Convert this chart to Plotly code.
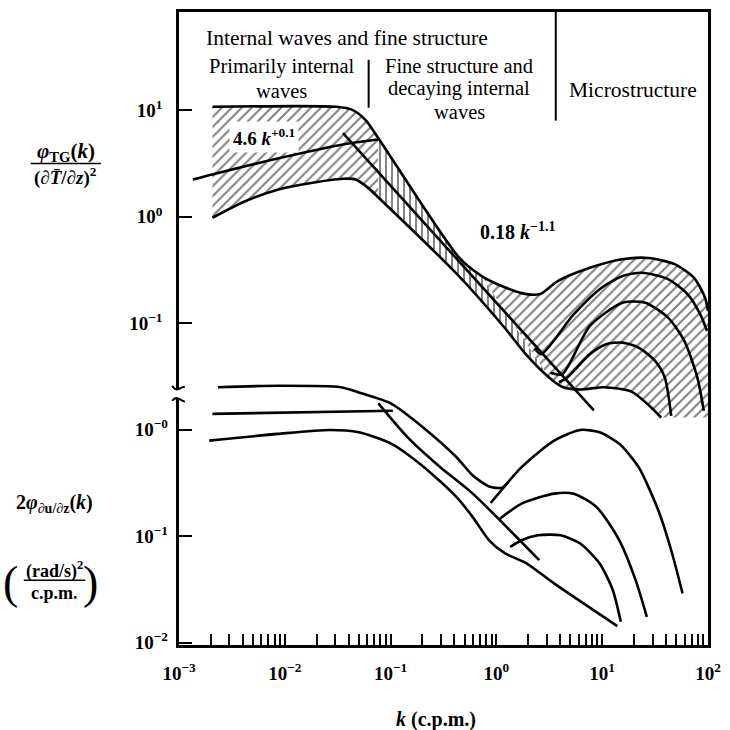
import plotly.graph_objects as go

# ---------------- data ----------------
# Temperature-gradient spectrum band (upper panel)
band_upper_k = [0.00207, 0.0306, 0.0435, 0.0578, 0.0767, 0.44, 0.721, 1.18, 1.92, 2.59, 3.8, 7.65, 15.4, 27.4, 48.3, 73.8, 93.8, 100]
band_upper_v = [10.8, 10.8, 10.1, 8.13, 5.47, 0.418, 0.279, 0.219, 0.188, 0.188, 0.249, 0.332, 0.40, 0.411, 0.359, 0.267, 0.174, 0.130]
band_lower_k = [0.00207, 0.00422, 0.00855, 0.0172, 0.0355, 0.0468, 0.0617, 0.0767, 0.44, 1.18, 1.92, 3.18, 4.28, 6.32, 10.4, 18.9, 27.9, 36.1]
band_lower_v = [0.98, 1.40, 1.80, 2.07, 2.28, 2.24, 1.86, 1.52, 0.279, 0.0923, 0.0505, 0.0307, 0.0251, 0.0239, 0.0251, 0.0228, 0.0168, 0.0130]
hatch_bottom_v = 0.0130

arcA_k = [2.3, 2.65, 5.37, 9.46, 15.4, 23.6, 41.9, 64, 84.3, 98]
arcA_v = [0.058, 0.0513, 0.121, 0.209, 0.277, 0.298, 0.26, 0.188, 0.122, 0.0847]
arcB_k = [3.25, 4.2, 7.65, 15.5, 25.5, 41.9, 59.7, 79.2, 91.2]
arcB_v = [0.0343, 0.0333, 0.0945, 0.156, 0.156, 0.113, 0.0683, 0.031, 0.0151]
arcC_k = [3.9, 4.67, 7.65, 10.9, 15.5, 22.1, 31.6, 39, 44.9]
arcC_v = [0.028, 0.031, 0.0513, 0.0636, 0.0658, 0.0591, 0.0444, 0.031, 0.0135]

fit_low_k = [0.00135, 0.00206, 0.00855, 0.0355, 0.0762]      # 4.6 k^+0.1
fit_low_v = [2.24, 2.5, 3.53, 4.78, 5.32]
fit_high_k = [0.0355, 8.34]                                 # 0.18 k^-1.1
fit_high_v = [6.1, 0.0152]

# Shear spectrum (lower panel)
sh1_k = [0.00233, 0.00855, 0.0337, 0.0501, 0.102, 0.207, 0.42, 0.598, 0.853, 1.13, 1.28]
sh1_v = [2.51, 2.59, 2.51, 2.24, 1.75, 1.035, 0.552, 0.372, 0.293, 0.285, 0.32]
sh2_k = [0.00207, 0.105]
sh2_v = [1.41, 1.51]
sh3_k = [0.00193, 0.00855, 0.0265, 0.0501, 0.102, 0.207, 0.42, 0.598, 0.853, 1.2, 1.94, 3.48, 13.9]
sh3_v = [0.79, 0.914, 0.995, 0.946, 0.737, 0.445, 0.233, 0.151, 0.0916, 0.0692, 0.0554, 0.0362, 0.0143]
shdiag_k = [0.0767, 0.145, 0.295, 0.598, 2.54]
shdiag_v = [1.77, 0.849, 0.445, 0.251, 0.0595]
sharc1_k = [0.883, 1.73, 3.51, 6.2, 9.46, 14.5, 22.1, 33.9, 44.9, 57.5]
sharc1_v = [0.205, 0.445, 0.79, 0.995, 0.946, 0.737, 0.445, 0.175, 0.0738, 0.029]
sharc2_k = [1.08, 1.73, 3.51, 5.37, 8.83, 14.5, 20.7, 26.4]
sharc2_v = [0.146, 0.202, 0.251, 0.251, 0.188, 0.0916, 0.0387, 0.0175]
sharc3_k = [1.35, 1.73, 2.47, 4.05, 6.2, 9.46, 12.6, 15.0]
sharc3_v = [0.0792, 0.0916, 0.102, 0.102, 0.0853, 0.0554, 0.0311, 0.0157]

region_bounds_k = [0.062, 3.64]

x_tick_vals = [1e-3, 1e-2, 1e-1, 1, 10, 100]
x_tick_labels = ["10<sup>−3</sup>", "10<sup>−2</sup>", "10<sup>−1</sup>", "10<sup>0</sup>", "10<sup>1</sup>", "10<sup>2</sup>"]
y_top_vals = [10, 1, 0.1]
y_top_labels = ["10<sup>1</sup>", "10<sup>0</sup>", "10<sup>−1</sup>"]
y_bot_vals = [1, 0.1, 0.01]
y_bot_labels = ["10<sup>−0</sup>", "10<sup>−1</sup>", "10<sup>−2</sup>"]

# ---------------- layout geometry ----------------
W = H = 730
ML, MR, MT, MB = 179, 9, 10, 85
PW, PH = W - ML - MR, H - MT - MB
FONT = "Liberation Serif"
LW = 2.6


def paper(px, py):
    return (px - ML) / PW, (H - MB - py) / PH


fig = go.Figure()

# hatched band polygons
i1 = band_upper_k.index(0.0767); j1 = band_lower_k.index(0.0767)
i2 = band_upper_k.index(0.721); j2 = band_lower_k.index(3.18)

left_k = band_upper_k[:i1 + 1] + band_lower_k[:j1 + 1][::-1]
left_v = band_upper_v[:i1 + 1] + band_lower_v[:j1 + 1][::-1]
mid_k = band_upper_k[i1:i2 + 1] + band_lower_k[j1:j2 + 1][::-1]
mid_v = band_upper_v[i1:i2 + 1] + band_lower_v[j1:j2 + 1][::-1]
right_k = band_upper_k[i2:] + [band_upper_k[-1]] + band_lower_k[j2:][::-1]
right_v = band_upper_v[i2:] + [hatch_bottom_v] + band_lower_v[j2:][::-1]

for kk, vv, shp, sz, sol in [(left_k, left_v, "/", 7, 0.28), (mid_k, mid_v, "|", 6, 0.32), (right_k, right_v, "/", 7, 0.28)]:
    fig.add_trace(go.Scatter(
        x=kk, y=vv, mode="lines", fill="toself", line=dict(width=0, color="rgba(0,0,0,0)"),
        fillcolor="white",
        fillpattern=dict(shape=shp, size=sz, solidity=sol, fgcolor="black", bgcolor="white"),
        hoverinfo="skip", showlegend=False))

def curve(k, v, yax="y", shape="spline"):
    fig.add_trace(go.Scatter(x=k, y=v, mode="lines", yaxis=yax,
                             line=dict(color="black", width=LW, shape=shape, smoothing=0.7),
                             hoverinfo="skip", showlegend=False))

curve(band_upper_k, band_upper_v)
curve(band_lower_k, band_lower_v)
curve(arcA_k, arcA_v)
curve(arcB_k, arcB_v)
curve(arcC_k, arcC_v)
curve(fit_low_k, fit_low_v)
curve(fit_high_k, fit_high_v, shape="linear")

for k, v in [(sh1_k, sh1_v), (sh2_k, sh2_v), (sh3_k, sh3_v), (sharc1_k, sharc1_v),
             (sharc2_k, sharc2_v), (sharc3_k, sharc3_v)]:
    curve(k, v, yax="y2")
curve(shdiag_k, shdiag_v, yax="y2")

# x ticks: every 1..9 x 10^n, labels only at decades
xt_vals, xt_text = [], []
for d in range(-3, 2):
    for m in range(1, 10):
        xt_vals.append(m * 10 ** d)
        xt_text.append(x_tick_labels[d + 3] if m == 1 else "")
xt_vals.append(100); xt_text.append(x_tick_labels[-1])

axis_font = dict(family=FONT, size=19, color="black", weight="bold")
fig.update_layout(
    width=W, height=H, margin=dict(l=ML, r=MR, t=MT, b=MB),
    paper_bgcolor="white", plot_bgcolor="white",
    font=dict(family=FONT, color="black"),
    xaxis=dict(type="log", range=[-3, 2], tickmode="array", tickvals=xt_vals, ticktext=xt_text,
               ticks="inside", ticklen=11, tickwidth=1.8, tickcolor="black",
               showline=True, mirror=True, linewidth=2.6, linecolor="black",
               showgrid=False, zeroline=False, tickfont=axis_font, ticklabelstandoff=9,
               ticklabeloverflow="allow"),
    yaxis=dict(type="log", range=[-4.022, 1.924], tickmode="array", tickvals=y_top_vals, ticktext=y_top_labels,
               ticks="inside", ticklen=13, tickwidth=2.2, tickcolor="black",
               showline=True, mirror=True, linewidth=2.6, linecolor="black",
               showgrid=False, zeroline=False, tickfont=axis_font, ticklabelstandoff=10),
    yaxis2=dict(type="log", range=[-2.022, 3.924], overlaying="y", side="left",
                tickmode="array", tickvals=y_bot_vals, ticktext=y_bot_labels,
                ticks="inside", ticklen=13, tickwidth=2.2, tickcolor="black",
                showline=False, showgrid=False, zeroline=False, tickfont=axis_font, ticklabelstandoff=10),
)

shapes = []
# region dividers
shapes.append(dict(type="line", xref="x", yref="paper", x0=region_bounds_k[0], x1=region_bounds_k[0],
                   y0=paper(0, 106)[1], y1=paper(0, 58)[1], line=dict(color="black", width=2)))
shapes.append(dict(type="line", xref="x", yref="paper", x0=region_bounds_k[1], x1=region_bounds_k[1],
                   y0=paper(0, 119)[1], y1=1, line=dict(color="black", width=2)))
# axis break (gap in left axis) with two small hooks
x0, y0 = paper(172, 398); x1, y1 = paper(186, 388)
shapes.append(dict(type="rect", xref="paper", yref="paper", x0=x0, x1=x1, y0=y0, y1=y1,
                   fillcolor="white", line=dict(width=0), layer="above"))


def hook(pts):
    p = [paper(a, b) for a, b in pts]
    return "M {},{} Q {},{} {},{} T {},{}".format(p[0][0], p[0][1], p[1][0], p[1][1], p[2][0], p[2][1], p[3][0], p[3][1])


shapes.append(dict(type="path", xref="paper", yref="paper", layer="above",
                   path=hook([(172, 385), (175, 390), (179, 388), (185, 386)]),
                   line=dict(color="black", width=2)))
shapes.append(dict(type="path", xref="paper", yref="paper", layer="above",
                   path=hook([(172, 400), (175, 396), (179, 398), (185, 401)]),
                   line=dict(color="black", width=2)))
# fraction bars
for (a, b, yy) in [(27, 99, 162), (20, 83, 580)]:
    xa, ya = paper(a, yy); xb, _ = paper(b, yy)
    shapes.append(dict(type="line", xref="paper", yref="paper", x0=xa, x1=xb, y0=ya, y1=ya,
                       line=dict(color="black", width=1.6)))
fig.update_layout(shapes=shapes)

ann = []
def text(px, py, s, size=18, bg=None, bold=True):
    x, y = paper(px, py)
    d = dict(x=x, y=y, xref="paper", yref="paper", text=s, showarrow=False,
             font=dict(family=FONT, size=size, color="black", weight="bold" if bold else "normal"),
             xanchor="center", yanchor="middle")
    if bg:
        d.update(bgcolor=bg, borderpad=3)
    ann.append(d)

text(351, 36, "Internal waves and fine structure", 21.5, bold=False)
text(284, 65, "Primarily internal", 20.5, bold=False)
text(284, 89, "waves", 20.5, bold=False)
text(466, 64, "Fine structure and", 20.5, bold=False)
text(466, 87, "decaying internal", 20.5, bold=False)
text(466, 110, "waves", 20.5, bold=False)
text(644, 88, "Microstructure", 21.5, bold=False)
text(266, 135, "4.6 <i>k</i><sup>+0.1</sup>", 19, bg="white")
text(526, 230, "0.18 <i>k</i><sup>−1.1</sup>", 20)
text(63, 150, "<i>φ</i><sub>TG</sub>(<i>k</i>)", 21)
text(63, 175, "(∂<i>T̄</i>/∂<i>z</i>)<sup>2</sup>", 19)
text(51, 503, "2<i>φ</i><sub>∂u/∂z</sub>(<i>k</i>)", 20)
text(51, 570, "(rad/s)<sup>2</sup>", 18)
text(51, 593, "c.p.m.", 18)
text(6, 582, "(", 46, bold=False)
text(88, 582, ")", 46, bold=False)
text(442, 720, "<i>k</i> (c.p.m.)", 20)
fig.update_layout(annotations=ann)

fig.write_html("out.html")
